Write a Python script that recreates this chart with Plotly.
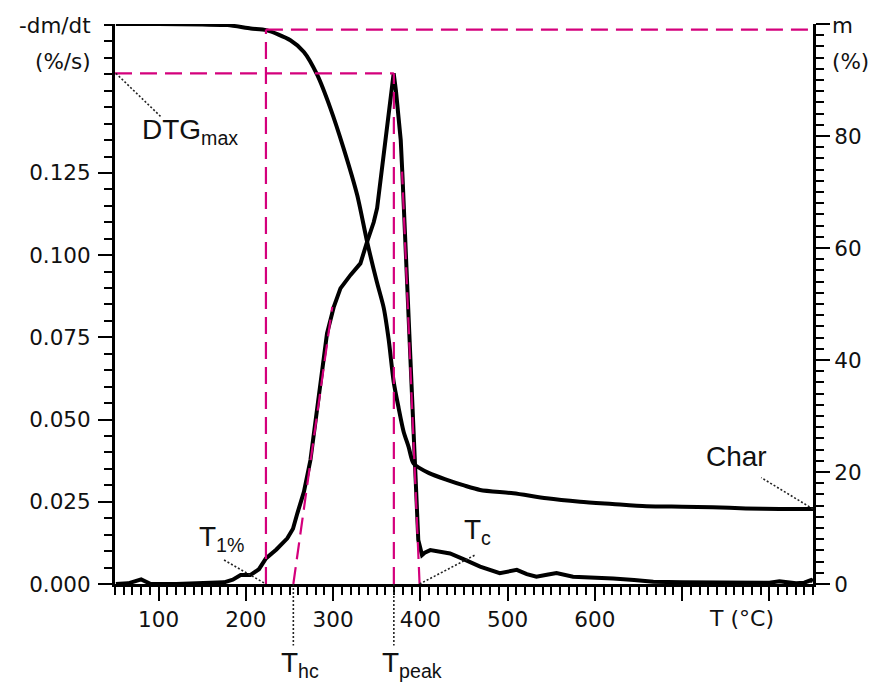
import plotly.graph_objects as go

# ---- data ----
dtg_T = [51, 65, 80, 91, 120, 150, 175, 185, 194, 205, 215, 223, 235, 247.5, 254, 259, 266.5, 274, 280,
         286, 293, 300.8, 308.4, 320, 331.3, 339, 343, 346.5, 350.4, 353, 356.1, 361.8, 366, 369.4,
         372, 375, 377.5, 379.5, 385.3, 389, 393.1, 397.6, 401.9, 405, 411.4, 420, 434, 450, 468.5,
         491, 510.5, 522, 533, 545, 556, 575, 600, 621, 645, 667, 700, 735, 773, 800, 811.5, 830.6,
         840, 848, 850]
dtg_v = [0.0, 0.0002, 0.0014, 0.0, 0.0, 0.0003, 0.0005, 0.0013, 0.0027, 0.0027, 0.0045, 0.0078, 0.0105,
         0.0139, 0.0168, 0.0215, 0.028, 0.0377, 0.05, 0.0625, 0.0762, 0.0843, 0.0899, 0.094, 0.0975,
         0.1041, 0.107, 0.110, 0.1143, 0.120, 0.1274, 0.1396, 0.148, 0.1553,
         0.150, 0.143, 0.135, 0.124, 0.0864, 0.062, 0.0377, 0.0134, 0.0088, 0.0095, 0.0103, 0.0100,
         0.0093, 0.0075, 0.0053, 0.0033, 0.0043, 0.0030, 0.0022, 0.0028, 0.0033, 0.0022, 0.0020,
         0.0017, 0.0012, 0.0007, 0.0005, 0.0005, 0.0006, 0.0004, 0.0008, 0.0002, 0.0004, 0.0012, 0.0009]

tg_T = [51, 100, 150, 179, 205.5, 223.5, 251, 266.5, 281.8, 297, 312, 327.5, 339, 350, 358, 363.7,
        369.4, 375, 380.8, 386.5, 392.3, 410, 430.4, 450, 468.5, 506.6, 544.8, 583, 620, 659, 700,
        735, 773, 811.5, 850]
tg_m = [100, 100, 99.9, 99.8, 99.2, 98.9, 97.1, 95.0, 90.9, 84.9, 77.8, 69.5, 61.1, 54.0, 49.3, 43.6,
        36.1, 31.5, 27.2, 24.5, 21.5, 19.8, 18.6, 17.6, 16.8, 16.2, 15.3, 14.7, 14.3, 13.9, 13.8,
        13.7, 13.5, 13.4, 13.4]

# characteristic values
T_1 = 223
M_1 = 99
T_hc = 254.4
T_peak = 369.6
DTG_max = 0.1553
T_c = 399.1
hc_tangent_end = (299, 0.0843)
c_tangent_end = (379, 0.1254)
char_m = 13.4

x_tickvals = [100, 200, 300, 400, 500, 600, 700, 800]
x_ticktext = ["100", "200", "300", "400", "500", "600", "", ""]
y_tickvals = [0, 0.025, 0.05, 0.075, 0.1, 0.125]
y_ticktext = ["0.000", "0.025", "0.050", "0.075", "0.100", "0.125"]
y2_tickvals = [0, 20, 40, 60, 80, 100]
y2_ticktext = ["0", "20", "40", "60", "80", ""]

PINK = "#d4007c"
TICKFONT = dict(family="DejaVu Sans, Verdana, sans-serif", size=21.5, color="#111")
ANNFONT = dict(family="Liberation Sans, Arial, sans-serif", size=28, color="#111")

fig = go.Figure()
fig.add_trace(go.Scatter(x=dtg_T, y=dtg_v, mode="lines", line=dict(color="black", width=4),
                         yaxis="y", showlegend=False))
fig.add_trace(go.Scatter(x=tg_T, y=tg_m, mode="lines", line=dict(color="black", width=4),
                         yaxis="y2", showlegend=False, line_shape="spline", line_smoothing=0.7))

dash = dict(color=PINK, width=2.2, dash="17px,8px")
dot = dict(color="#222", width=1.6, dash="2px,2px")
shapes = [
    # T1% lines
    dict(type="line", xref="x", yref="y2", x0=T_1, x1=850, y0=M_1, y1=M_1, line=dash),
    dict(type="line", xref="x", yref="y2", x0=T_1, x1=T_1, y0=0, y1=M_1, line=dash),
    # DTGmax lines
    dict(type="line", xref="x", yref="y", x0=50, x1=T_peak, y0=DTG_max, y1=DTG_max, line=dash),
    dict(type="line", xref="x", yref="y", x0=T_peak, x1=T_peak, y0=0, y1=DTG_max, line=dash),
    # tangents
    dict(type="line", xref="x", yref="y", x0=T_hc, x1=hc_tangent_end[0], y0=0, y1=hc_tangent_end[1], line=dash),
    dict(type="line", xref="x", yref="y", x0=T_c, x1=c_tangent_end[0], y0=0, y1=c_tangent_end[1], line=dash),
    # dotted leaders
    dict(type="line", xref="x", yref="y", x0=51, x1=102.6, y0=DTG_max, y1=0.1421, line=dot),
    dict(type="line", xref="x", yref="y", x0=175, x1=T_1, y0=0.0073, y1=0, line=dot),
    dict(type="line", xref="x", yref="paper", x0=T_hc, x1=T_hc, y0=0, y1=-0.11, line=dot),
    dict(type="line", xref="x", yref="paper", x0=T_peak, x1=T_peak, y0=0, y1=-0.11, line=dot),
    dict(type="line", xref="x", yref="y", x0=T_c, x1=464, y0=0, y1=0.009, line=dot),
    dict(type="line", xref="x", yref="y2", x0=850, x1=790.6, y0=char_m, y1=19.0, line=dot),
]


def ann(text, x, y, xanchor, yanchor, font):
    return dict(text=text, xref="paper", yref="paper", x=x, y=y, xanchor=xanchor, yanchor=yanchor,
                showarrow=False, font=font)


annotations = [
    ann("-dm/dt", -0.032, 0.9975, "right", "middle", TICKFONT),
    ann("(%/s)", -0.032, 0.9332, "right", "middle", TICKFONT),
    ann("m", 1.025, 0.9975, "left", "middle", TICKFONT),
    ann("(%)", 1.025, 0.9332, "left", "middle", TICKFONT),
    dict(text="T (°C)", xref="x", yref="paper", x=767.5, y=-0.062, xanchor="center", yanchor="middle",
         showarrow=False, font=dict(TICKFONT, size=22)),
    ann("DTG<sub>max</sub>", 0.0358, 0.8429, "left", "top", ANNFONT),
    ann("T<sub>1%</sub>", 0.1175, 0.1166, "left", "top", ANNFONT),
    ann("T<sub>hc</sub>", 0.235, -0.1089, "left", "top", ANNFONT),
    ann("T<sub>peak</sub>", 0.3797, -0.1089, "left", "top", ANNFONT),
    ann("T<sub>c</sub>", 0.4971, 0.1286, "left", "top", ANNFONT),
    ann("Char", 0.8434, 0.2595, "left", "top", ANNFONT),
]

axis_common = dict(showline=True, linecolor="black", linewidth=3, ticks="outside", tickcolor="black",
                   tickwidth=2, ticklen=14, showgrid=False, zeroline=False, tickfont=TICKFONT)

fig.update_layout(
    width=881, height=684,
    margin=dict(l=115, r=68, t=24, b=100),
    paper_bgcolor="white", plot_bgcolor="white",
    shapes=shapes, annotations=annotations,
    xaxis=dict(range=[50, 850], tickmode="array", tickvals=x_tickvals, ticktext=x_ticktext,
               minor=dict(dtick=10, tick0=0, ticks="outside", ticklen=8, tickwidth=2, tickcolor="black"),
               **axis_common),
    yaxis=dict(range=[0, 0.1703], tickmode="array", tickvals=y_tickvals, ticktext=y_ticktext,
               ticklabelstandoff=3,
               minor=dict(dtick=0.005, tick0=0, ticks="outside", ticklen=8, tickwidth=2, tickcolor="black"),
               **axis_common),
    yaxis2=dict(range=[0, 100], overlaying="y", side="right", tickmode="array", tickvals=y2_tickvals,
                ticktext=y2_ticktext,
                minor=dict(dtick=2, tick0=0, ticks="outside", ticklen=8, tickwidth=2, tickcolor="black"),
                **axis_common),
)

fig.write_html("out.html")
